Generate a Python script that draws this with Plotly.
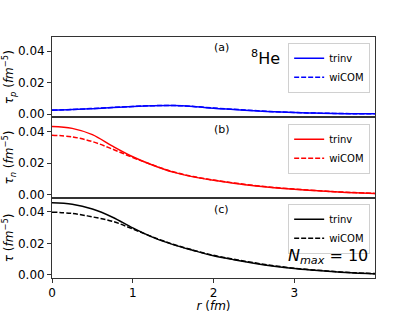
import plotly.graph_objects as go
from plotly.subplots import make_subplots

r = [0, 0.25, 0.5, 0.75, 1.0, 1.25, 1.5, 1.75, 2.0, 2.25, 2.5, 2.75, 3.0, 3.25, 3.5, 3.75, 4.0]

tau_p_trinv = [0.0025, 0.0029, 0.0035, 0.0042, 0.0049, 0.0054, 0.0055, 0.0049, 0.0038, 0.0030, 0.0022, 0.0015, 0.0010, 0.0007, 0.0004, 0.0003, 0.0002]
tau_p_wicom = [0.0026, 0.0030, 0.0036, 0.0043, 0.0049, 0.0054, 0.0055, 0.0049, 0.0039, 0.0031, 0.0023, 0.0016, 0.0011, 0.0007, 0.0005, 0.0003, 0.0002]

tau_n_trinv = [0.0432, 0.0420, 0.0380, 0.0307, 0.0240, 0.0186, 0.0142, 0.0112, 0.0090, 0.0072, 0.0056, 0.0043, 0.0033, 0.0025, 0.0017, 0.0011, 0.0006]
tau_n_wicom = [0.0377, 0.0366, 0.0336, 0.0288, 0.0235, 0.0187, 0.0144, 0.0114, 0.0092, 0.0074, 0.0058, 0.0045, 0.0035, 0.0026, 0.0018, 0.0012, 0.0007]

tau_trinv = [0.0457, 0.0448, 0.0418, 0.0366, 0.0298, 0.0238, 0.0192, 0.0155, 0.0121, 0.0096, 0.0074, 0.0055, 0.0040, 0.0029, 0.0019, 0.0011, 0.0006]
tau_wicom = [0.0398, 0.0390, 0.0368, 0.0340, 0.0291, 0.0240, 0.0194, 0.0157, 0.0124, 0.0099, 0.0077, 0.0058, 0.0042, 0.0031, 0.0021, 0.0013, 0.0008]

y_ticks = [0.0, 0.02, 0.04]
x_ticks = [0, 1, 2, 3]
series_names = ["trinv", "wiCOM"]
panel_labels = ["(a)", "(b)", "(c)"]
y_titles = [
    "<i>τ</i><sub><i>p</i></sub> (<i>fm</i><sup>−5</sup>)",
    "<i>τ</i><sub><i>n</i></sub> (<i>fm</i><sup>−5</sup>)",
    "<i>τ</i> (<i>fm</i><sup>−5</sup>)",
]

FONT = "DejaVu Sans"
fig = make_subplots(rows=3, cols=1, shared_xaxes=True, vertical_spacing=0)

panels = [
    (tau_p_trinv, tau_p_wicom, "#0000ff", "legend"),
    (tau_n_trinv, tau_n_wicom, "#ff0000", "legend2"),
    (tau_trinv, tau_wicom, "#000000", "legend3"),
]
for i, (s, d, c, lg) in enumerate(panels):
    fig.add_trace(go.Scatter(x=r, y=s, mode="lines", name=series_names[0], line=dict(color=c, width=1.5, shape="spline"), legend=lg), row=i + 1, col=1)
    fig.add_trace(go.Scatter(x=r, y=d, mode="lines", name=series_names[1], line=dict(color=c, width=1.5, dash="5px,2px", shape="spline"), legend=lg), row=i + 1, col=1)

leg_common = dict(
    xref="paper", yref="paper", x=0.985, xanchor="right", yanchor="top",
    bgcolor="rgba(255,255,255,0.8)", bordercolor="#d0d0d0", borderwidth=1,
    font=dict(family=FONT, size=10, color="#000"), itemwidth=30, tracegroupgap=0,
)
fig.update_layout(
    width=417, height=313,
    margin=dict(l=52, r=42, t=37, b=35, autoexpand=False),
    paper_bgcolor="white", plot_bgcolor="white",
    font=dict(family=FONT, size=12, color="#000"),
    legend=dict(y=0.976, **leg_common),
    legend2=dict(y=0.640, **leg_common),
    legend3=dict(y=0.308, **leg_common),
)

for i in range(3):
    fig.update_yaxes(
        row=i + 1, col=1, range=[-0.002, 0.049], tickvals=y_ticks, tickformat=".2f",
        showline=True, linecolor="#333", linewidth=0.8, mirror=True, ticks="outside", ticklen=4,
        tickcolor="#333", showgrid=False, zeroline=False, automargin=False,
        title=dict(text=y_titles[i], font=dict(family=FONT, size=12), standoff=1),
        tickfont=dict(family=FONT, size=12),
    )
    fig.update_xaxes(
        row=i + 1, col=1, range=[0, 4.0], tickvals=x_ticks, automargin=False,
        showline=True, linecolor="#333", linewidth=0.8, mirror=True,
        ticks="outside" if i == 2 else "", ticklen=4, tickcolor="#333",
        showgrid=False, zeroline=False, tickfont=dict(family=FONT, size=12),
    )
fig.update_xaxes(row=3, col=1, title=dict(text="<i>r</i> (<i>fm</i>)", font=dict(family=FONT, size=12), standoff=5))

label_y = [0.956, 0.617, 0.284]
for i, t in enumerate(panel_labels):
    fig.add_annotation(text=t, xref="paper", yref="paper", x=0.526, y=label_y[i], xanchor="center", yanchor="middle",
                       showarrow=False, font=dict(family=FONT, size=11, color="#000"))
fig.add_annotation(text="<sup>8</sup>He", xref="paper", yref="paper", x=0.66, y=0.913, xanchor="center", yanchor="middle",
                   showarrow=False, font=dict(family=FONT, size=16, color="#000"))
fig.add_annotation(text="<i>N</i><sub><i>max</i></sub> = 10", xref="paper", yref="paper", x=0.855, y=0.091,
                   xanchor="center", yanchor="middle", showarrow=False, font=dict(family=FONT, size=16, color="#000"))

fig.write_html("out.html", config={"displayModeBar": False},
               post_script="document.body.style.margin='0';document.body.style.overflow='hidden';")
